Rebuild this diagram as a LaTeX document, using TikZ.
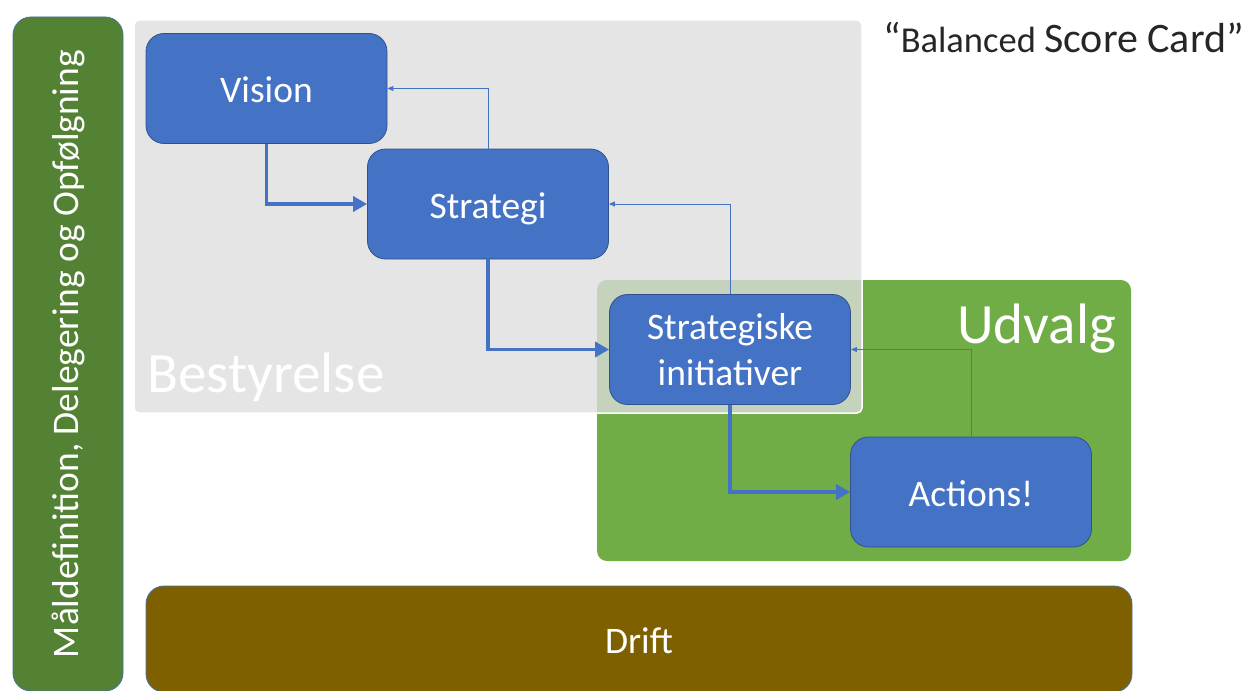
\documentclass[tikz,border=0pt]{standalone}
\usepackage{fontspec}
\setmainfont{Carlito}
\usetikzlibrary{arrows.meta}
\definecolor{boxblue}{HTML}{4472C4}
\definecolor{boxedge}{HTML}{2F528F}
\definecolor{baredge}{HTML}{41719C}
\definecolor{bargreen}{HTML}{548235}
\definecolor{udgreen}{HTML}{70AD47}
\definecolor{driftbrown}{HTML}{7F6000}
\definecolor{bestgray}{HTML}{DEDEDE}
\definecolor{titlegray}{HTML}{262626}
\begin{document}
\begin{tikzpicture}[x=1pt,y=-1pt,
  stepbox/.style={draw=boxedge, line width=0.8pt, fill=boxblue, rounded corners=18pt,
    text=white, font=\fontsize{37.5}{46}\selectfont, minimum width=241pt,
    minimum height=110pt, inner sep=0pt, align=center},
  oneline/.style={text height=29pt, text depth=1pt},
  bigword/.style={text=white, font=\fontsize{57}{60}\selectfont, inner sep=0pt},
  thickarrow/.style={draw=boxblue, line width=3.5pt, -{Triangle[length=14pt,width=15pt]}},
  thinarrow/.style={draw=boxblue, line width=1pt, -{Triangle[length=6pt,width=5pt]}}
]
\useasboundingbox (0,0) rectangle (1246,690);
% left bar
\node[rotate=90, draw=baredge, line width=0.8pt, fill=bargreen, rounded corners=18pt,
  minimum width=674pt, minimum height=110pt, inner sep=0pt, text=white,
  font=\fontsize{37.5}{40}\selectfont] (bar) at (68,354) {Måldefinition, Delegering og Opfølgning};
% udvalg area
\node[fill=udgreen, rounded corners=10pt, minimum width=534pt, minimum height=281pt,
  inner sep=0pt] (udv) at (864,420.5) {};
% bestyrelse area
\node[fill=bestgray, fill opacity=0.78, draw=white, line width=1.5pt, rounded corners=5pt,
  minimum width=728pt, minimum height=393pt, inner sep=0pt] (best) at (498,216.5) {};
\node[bigword, anchor=base west] (bestlbl) at (147,392) {Bestyrelse};
\node[bigword, anchor=base west] (udvlbl) at (957,343) {Udvalg};
% drift
\node[draw=baredge, line width=0.8pt, fill=driftbrown, rounded corners=18pt,
  minimum width=986pt, minimum height=106pt, inner sep=0pt, text=white, oneline,
  font=\fontsize{37.5}{44}\selectfont] (drift) at (639,639) {Drift};
% title
\node[anchor=base west, inner sep=0pt, text=titlegray] (title) at (883,53)
  {{\fontsize{42}{46}\selectfont “}{\fontsize{36.5}{40}\selectfont Balanced }{\fontsize{42}{46}\selectfont Score Card”}};
% steps
\node[stepbox, oneline] (vision) at (266.5,88.5) {Vision};
\node[stepbox, oneline] (strategi) at (488,204) {Strategi};
\node[stepbox] (si) at (730,349.5) {Strategiske\\initiativer};
\node[stepbox, oneline] (actions) at (971,492) {Actions!};
% arrows
\draw[thickarrow] (vision.south) |- (strategi.west);
\draw[thickarrow] (strategi.south) |- (si.west);
\draw[thickarrow] (si.south) |- (actions.west);
\draw[thinarrow] (strategi.north) |- (vision.east);
\draw[thinarrow] (si.north) |- (strategi.east);
\draw[thinarrow] (actions.north) |- (si.east);
\end{tikzpicture}
\end{document}
